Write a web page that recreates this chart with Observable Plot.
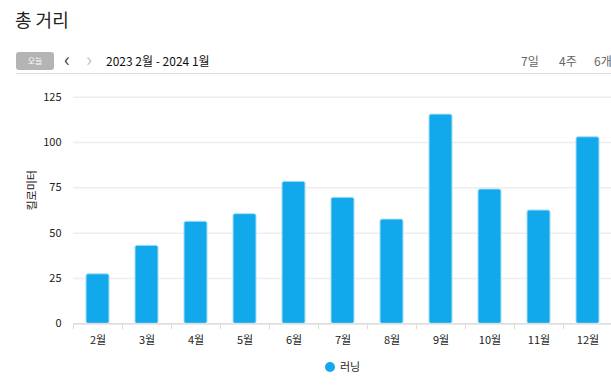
<!DOCTYPE html>
<html><head><meta charset="utf-8">
<script src="https://cdn.jsdelivr.net/npm/d3@7"></script>
<script src="https://cdn.jsdelivr.net/npm/@observablehq/plot@0.6"></script>
<style>
html,body{margin:0;padding:0;background:#fff;}
body{width:611px;height:392px;overflow:hidden;position:relative;font-family:"Noto Sans CJK KR","Noto Sans",sans-serif;color:#222;}
.abs{position:absolute;white-space:nowrap;}
#chart{position:absolute;left:0;top:84px;width:620px;}
#chart svg{max-width:none !important;}
</style></head>
<body>
<div class="abs" style="left:15px;top:6px;font-size:18px;color:#222;">총 거리</div>
<div class="abs" style="left:16px;top:52px;width:38px;height:18px;background:#b4b4b4;border-radius:3px;color:#fff;font-size:8px;line-height:18px;text-align:center;">오늘</div>
<div class="abs" style="left:64px;top:44px;font-size:20px;color:#444;">&#8249;</div>
<div class="abs" style="left:86px;top:44px;font-size:20px;color:#c4c4c4;">&#8250;</div>
<div class="abs" style="left:106px;top:52px;font-size:12px;color:#111;">2023 2월 - 2024 1월</div>
<div class="abs" style="left:521px;top:52px;font-size:12px;color:#666;">7일</div>
<div class="abs" style="left:559px;top:52px;font-size:12px;color:#666;">4주</div>
<div class="abs" style="left:594px;top:52px;font-size:12px;color:#666;">6개</div>
<div class="abs" style="left:16px;top:73px;width:620px;height:1px;background:#ddd;"></div>
<div id="chart"></div>
<div class="abs" style="left:325px;top:362px;width:10px;height:10px;border-radius:50%;background:#12a9ec;"></div>
<div class="abs" style="left:340px;top:358px;font-size:11px;color:#222;">러닝</div>
<script>
const months = ["2월","3월","4월","5월","6월","7월","8월","9월","10월","11월","12월"];
const distance = [27.3, 43.0, 56.3, 60.5, 78.3, 69.5, 57.5, 115.4, 74.1, 62.5, 102.9];
const yTicks = [0, 25, 50, 75, 100, 125];
const seriesName = "러닝";
const yLabel = "킬로미터";

const data = months.map((m, i) => ({month: m, value: distance[i], series: seriesName}));

const boundaryTicks = (index, scales, values, dims) => {
  const x = scales.x, y = scales.y;
  const step = x.step ? x.step() : (dims.width - dims.marginLeft - dims.marginRight) / months.length;
  const g = d3.create("svg:g");
  const y0 = y(0);
  g.append("line").attr("x1", dims.marginLeft).attr("x2", dims.width - dims.marginRight)
    .attr("y1", y0 + 0.5).attr("y2", y0 + 0.5).attr("stroke", "#ddd").attr("stroke-width", 1.5);
  const xs = months.map(m => x(m) + x.bandwidth() / 2 - step / 2);
  xs.push(x(months[months.length - 1]) + x.bandwidth() / 2 + step / 2);
  for (const xv of xs) {
    g.append("line").attr("x1", Math.round(xv) + 0.5).attr("x2", Math.round(xv) + 0.5)
      .attr("y1", y0).attr("y2", y0 + 6).attr("stroke", "#ddd").attr("stroke-width", 1);
  }
  return g.node();
};

const plot = Plot.plot({
  width: 620,
  height: 270,
  marginLeft: 73,
  marginRight: 8,
  marginTop: 12.7,
  marginBottom: 30.7,
  style: {fontFamily: '"Noto Sans CJK KR","Noto Sans",sans-serif', fontSize: "11px", color: "#222", background: "#fff", maxWidth: "none"},
  x: {domain: months, paddingInner: 0.54, paddingOuter: 0.27, label: null},
  y: {domain: [0, 125], ticks: yTicks, label: null},
  marks: [
    Plot.gridY(yTicks, {stroke: "#eee", strokeOpacity: 1, strokeWidth: 1.5}),
    Plot.axisY(yTicks, {tickSize: 0, tickPadding: 12, label: null, fontSize: 11, fill: "#222"}),
    Plot.text([yLabel], {frameAnchor: "left", dx: -41, rotate: -90, fontSize: 11, fill: "#222"}),
    Plot.barY(data, {x: "month", y: "value", fill: "#12a9ec", stroke: "#a8def7", strokeWidth: 1, rx: 2}),
    boundaryTicks,
    Plot.axisX({tickSize: 0, tickPadding: 12, label: null, fontSize: 11, fill: "#222"})
  ]
});
document.getElementById("chart").appendChild(plot);
</script>
</body></html>
